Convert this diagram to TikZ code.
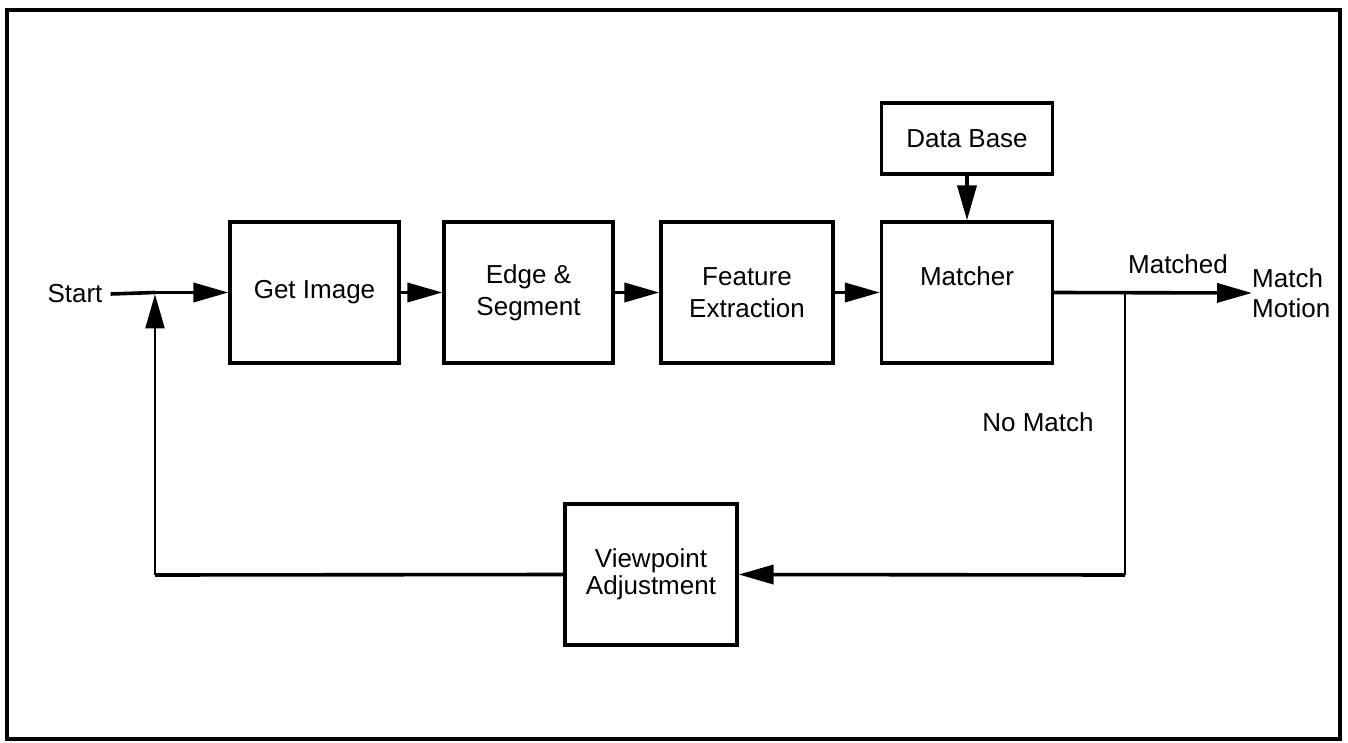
\documentclass[tikz,border=0pt]{standalone}
\usepackage{fontspec}
\setmainfont{Liberation Sans}
\usetikzlibrary{arrows.meta}
\begin{document}
\begin{tikzpicture}[x=1pt,y=-1pt,
  box/.style={draw,line width=3.2pt,inner sep=0pt,align=center,
    font=\fontsize{26}{32}\selectfont},
  lbl/.style={inner sep=0pt,font=\fontsize{26}{30}\selectfont,align=left},
  flow/.style={line width=3.6pt,-{Triangle[length=35pt,width=19pt]}},
  thinline/.style={line width=2pt}]
\useasboundingbox (0,0) rectangle (1348,743);
\draw[line width=4.5pt] (7,10) rectangle (1340,739);

% processing chain
\node[box,minimum width=169pt,minimum height=141pt] (get) at (314.5,292.5) {Get Image};
\node[box,minimum width=169pt,minimum height=141pt] (edge) at (528.5,292.5) {Edge \&\\Segment};
\node[box,minimum width=172pt,minimum height=141pt] (feat) at (747,292.5) {Feature\\Extraction};
\node[box,minimum width=171pt,minimum height=141pt] (match) at (967,292.5) {Matcher\\\mbox{}};
\node[box,minimum width=171pt,minimum height=71pt] (db) at (967,138.5) {Data Base};
\node[box,minimum width=172pt,minimum height=141pt,
  font=\fontsize{26}{27}\selectfont] (vp) at (651,574.5) {Viewpoint\\Adjustment};

% labels
\node[lbl] (start) at (75,294) {Start};
\node[lbl] (matched) at (1178,264) {Matched};
\node[lbl,anchor=west] (motion) at (1252,293) {Match\\Motion};
\node[lbl] (nomatch) at (1038,422) {No Match};

% junctions
\coordinate (j) at (155,292.5);
\coordinate (b) at (1125,292.5);
\coordinate (c) at (1125,575);
\coordinate (l) at (155,575);

% forward path
\draw[line width=3.6pt] (start.east) ++(8pt,0) coordinate (s0) -- (j);
\draw[flow] (j) -- (get.west);
\draw[flow] (get.east) -- (edge.west);
\draw[flow] (edge.east) -- (feat.west);
\draw[flow] (feat.east) -- (match.west);
\draw[flow] (db.south) -- (match.north);
\draw[flow] (match.east) -- (motion.west);

% feedback loop
\draw[thinline] (b) -- (c);
\draw[flow] (c) -- (vp.east);
\draw[line width=3.6pt] (vp.west) -- (l);
\draw[thinline,shorten >=1.8pt,-{Triangle[length=34pt,width=19pt]}] (l) -- (j);
\end{tikzpicture}
\end{document}
